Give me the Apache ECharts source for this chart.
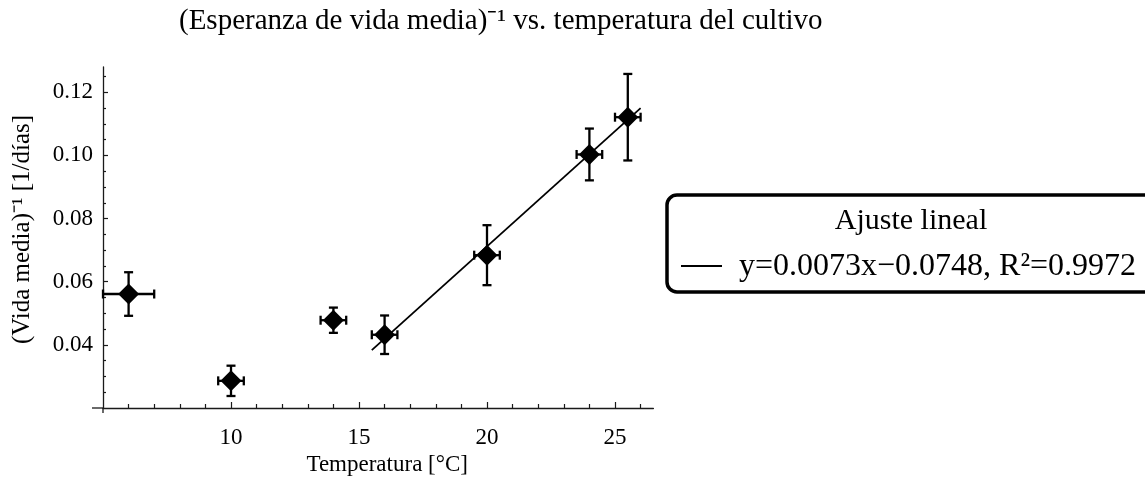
<!DOCTYPE html>
<html>
<head>
<meta charset="utf-8">
<script src="https://cdn.jsdelivr.net/npm/echarts@6/dist/echarts.min.js"></script>
<style>
  html, body { margin: 0; padding: 0; background: #fff; }
  #chart { width: 1145px; height: 477px; }
</style>
</head>
<body>
<div id="chart"></div>
<script>
// Culture temperature [°C] and its uncertainty
const temperature    = [6, 10, 14, 16, 20, 24, 25.5];
const temperatureErr = [1, 0.5, 0.5, 0.5, 0.5, 0.5, 0.5];
// Inverse mean lifespan [1/days] and its uncertainty
const inverseLife    = [0.0561, 0.0286, 0.0478, 0.0432, 0.0684, 0.1003, 0.1121];
const inverseLifeErr = [0.0069, 0.0048, 0.0040, 0.0061, 0.0095, 0.0082, 0.0137];

// Linear fit over the upper temperature range
const fitSlope = 0.0073;
const fitIntercept = -0.0748;
const fitR2 = 0.9972;
const fitRange = [15.5, 26];

// Axis ranges and tick positions
const xRange = [5, 26.5];
const yRange = [0.02, 0.128];
const xMajorTicks = [10, 15, 20, 25];
const xMinorTicks = [6, 7, 8, 9, 11, 12, 13, 14, 16, 17, 18, 19, 21, 22, 23, 24, 26];
const yMajorTicks = [0.04, 0.06, 0.08, 0.10, 0.12];
const yMinorTicks = [0.025, 0.03, 0.035, 0.045, 0.05, 0.055, 0.065, 0.07, 0.075,
                     0.085, 0.09, 0.095, 0.105, 0.11, 0.115, 0.125];

const SERIF = '"Liberation Serif", "Times New Roman", serif';
const INK = '#000';
const AXIS = '#1a1a1a';

const points = temperature.map((t, i) => [t, inverseLife[i], temperatureErr[i], inverseLifeErr[i]]);
const fitLine = fitRange.map(x => [x, fitSlope * x + fitIntercept]);
const fitLabel = 'y=' + fitSlope.toFixed(4) + 'x\u2212' + Math.abs(fitIntercept).toFixed(4) +
                 ', R\u00B2=' + fitR2.toFixed(4);

const chart = echarts.init(document.getElementById('chart'), null, { renderer: 'canvas' });

function baseX(extra) {
  return Object.assign({
    type: 'value', min: xRange[0], max: xRange[1], position: 'bottom',
    splitLine: { show: false }, minorTick: { show: false }
  }, extra);
}
function baseY(extra) {
  return Object.assign({
    type: 'value', min: yRange[0], max: yRange[1], position: 'left',
    splitLine: { show: false }, minorTick: { show: false }
  }, extra);
}

chart.setOption({
  animation: false,
  backgroundColor: '#fff',
  title: {
    text: '(Esperanza de vida media)\u207B\u00B9 vs. temperatura del cultivo',
    left: 174, top: 2,
    textStyle: { fontFamily: SERIF, fontSize: 29, fontWeight: 'normal', color: INK }
  },
  grid: { left: 103, right: 491.6, top: 67, bottom: 69, containLabel: false, outerBoundsMode: 'none' },
  xAxis: [
    baseX({
      name: 'Temperatura [\u00B0C]',
      nameLocation: 'middle', nameGap: 44,
      nameTextStyle: { fontFamily: SERIF, fontSize: 23, color: INK, padding: [0, 0, 0, 18] },
      axisLine: { show: true, lineStyle: { color: AXIS, width: 1.3 } },
      axisTick: { show: true, inside: true, length: 4, customValues: xMinorTicks,
                  lineStyle: { color: AXIS, width: 1.2 } },
      axisLabel: { show: true, customValues: xMajorTicks, margin: 18,
                   fontFamily: SERIF, fontSize: 23, color: INK }
    }),
    baseX({
      axisLine: { show: false },
      axisTick: { show: true, inside: true, length: 6, customValues: xMajorTicks,
                  lineStyle: { color: AXIS, width: 1.2 } },
      axisLabel: { show: false }
    })
  ],
  yAxis: [
    baseY({
      name: '(Vida media)\u207B\u00B9 [1/d\u00EDas]',
      nameLocation: 'middle', nameGap: 68, nameRotate: 90,
      nameTextStyle: { fontFamily: SERIF, fontSize: 25, color: INK, padding: [0, 0, 0, 16] },
      axisLine: { show: true, lineStyle: { color: AXIS, width: 1.3 } },
      axisTick: { show: true, inside: true, length: 3, customValues: yMinorTicks,
                  lineStyle: { color: AXIS, width: 1.2 } },
      axisLabel: { show: true, customValues: yMajorTicks, margin: 10,
                   fontFamily: SERIF, fontSize: 23, color: INK,
                   formatter: v => v.toFixed(2) }
    }),
    baseY({
      axisLine: { show: false },
      axisTick: { show: true, inside: true, length: 5, customValues: yMajorTicks,
                  lineStyle: { color: AXIS, width: 1.2 } },
      axisLabel: { show: false }
    })
  ],
  series: [
    {
      name: 'Ajuste lineal',
      type: 'line',
      data: fitLine,
      xAxisIndex: 0, yAxisIndex: 0,
      symbol: 'none',
      lineStyle: { color: INK, width: 1.8 },
      clip: false,
      z: 2
    },
    {
      type: 'custom',
      xAxisIndex: 0, yAxisIndex: 0,
      data: points,
      encode: { x: 0, y: 1 },
      clip: false,
      z: 3,
      renderItem(params, api) {
        const x = api.value(0), y = api.value(1), dx = api.value(2), dy = api.value(3);
        const left = api.coord([x - dx, y]);
        const right = api.coord([x + dx, y]);
        const top = api.coord([x, y + dy]);
        const bottom = api.coord([x, y - dy]);
        const cap = 4.5;
        const style = { stroke: INK, lineWidth: 2.3, fill: null };
        const seg = (x1, y1, x2, y2) => ({ type: 'line', shape: { x1, y1, x2, y2 }, style });
        return {
          type: 'group',
          children: [
            seg(left[0], left[1], right[0], right[1]),
            seg(left[0], left[1] - cap, left[0], left[1] + cap),
            seg(right[0], right[1] - cap, right[0], right[1] + cap),
            seg(top[0], top[1], bottom[0], bottom[1]),
            seg(top[0] - cap, top[1], top[0] + cap, top[1]),
            seg(bottom[0] - cap, bottom[1], bottom[0] + cap, bottom[1])
          ]
        };
      }
    },
    {
      type: 'scatter',
      xAxisIndex: 0, yAxisIndex: 0,
      data: points.map(p => [p[0], p[1]]),
      symbol: 'diamond',
      symbolSize: 21,
      itemStyle: { color: INK, opacity: 1 },
      clip: false,
      z: 4
    }
  ]
});

// Axis overhang past the origin, and the boxed fit legend
const origin = chart.convertToPixel({ xAxisIndex: 0, yAxisIndex: 0 }, [xRange[0], yRange[0]]);
const legendBox = { x: 667, y: 195, w: 500, h: 97 };
chart.setOption({
  graphic: [
    { type: 'line', shape: { x1: origin[0] - 11, y1: origin[1], x2: origin[0], y2: origin[1] },
      style: { stroke: AXIS, lineWidth: 1.3 } },
    { type: 'line', shape: { x1: origin[0], y1: origin[1], x2: origin[0], y2: origin[1] + 5 },
      style: { stroke: AXIS, lineWidth: 1.3 } },
    { type: 'rect', shape: { x: legendBox.x, y: legendBox.y, width: legendBox.w, height: legendBox.h, r: 10 },
      style: { fill: '#fff', stroke: INK, lineWidth: 3.5 } },
    { type: 'text', x: 911, y: 221,
      style: { text: 'Ajuste lineal', font: '30px ' + SERIF, fill: INK, align: 'center', verticalAlign: 'middle' } },
    { type: 'line', shape: { x1: 681, y1: 266, x2: 722, y2: 266 },
      style: { stroke: INK, lineWidth: 2 } },
    { type: 'text', x: 739, y: 267,
      style: { text: fitLabel, font: '32px ' + SERIF, fill: INK, align: 'left', verticalAlign: 'middle' } }
  ]
});
</script>
</body>
</html>
